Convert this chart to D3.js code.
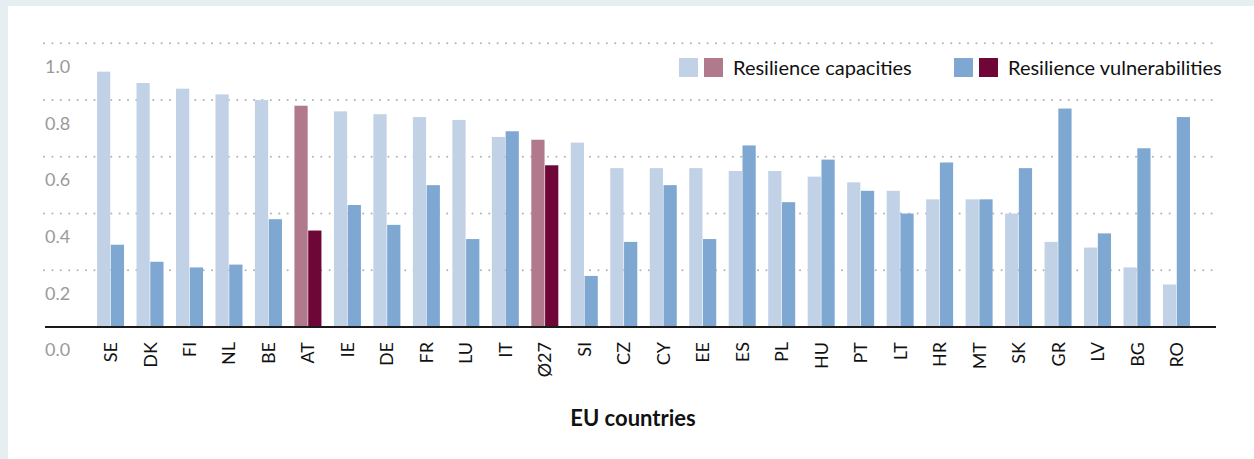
<!DOCTYPE html>
<html>
<head>
<meta charset="utf-8">
<script src="https://cdn.jsdelivr.net/npm/d3@7"></script>
<style>
  body { margin: 0; background: #e6eef2; }
  svg { display: block; }
</style>
</head>
<body>
<div id="chart"></div>
<script>
// EU countries: resilience capacities vs vulnerabilities

var countries = ["SE","DK","FI","NL","BE","AT","IE","DE","FR","LU","IT","Ø27","SI","CZ","CY","EE","ES","PL","HU","PT","LT","HR","MT","SK","GR","LV","BG","RO"];
var capacities = [0.90,0.86,0.84,0.82,0.80,0.78,0.76,0.75,0.74,0.73,0.67,0.66,0.65,0.56,0.56,0.56,0.55,0.55,0.53,0.51,0.48,0.45,0.45,0.40,0.30,0.28,0.21,0.15];
var vulnerabilities = [0.29,0.23,0.21,0.22,0.38,0.34,0.43,0.36,0.50,0.31,0.69,0.57,0.18,0.30,0.50,0.31,0.64,0.44,0.59,0.48,0.40,0.58,0.45,0.56,0.77,0.33,0.63,0.74];
var highlighted = ["AT","Ø27"];
var yTicks = [0.0,0.2,0.4,0.6,0.8,1.0];
var seriesNames = ["Resilience capacities","Resilience vulnerabilities"];

var W = 1254, H = 459;
var font = "Lato, 'Open Sans', sans-serif";

var colors = {
  cap: "#c1d2e7", vul: "#7ea8d1",
  capHi: "#b07a8c", vulHi: "#6e0638"
};

var svg = d3.select("#chart")
  .append("svg")
    .attr("width", W)
    .attr("height", H);

// white panel
svg.append("rect")
  .attr("x", 8).attr("y", 6)
  .attr("width", W - 8).attr("height", H - 6)
  .attr("fill", "#fff");

// scales
var y = d3.scaleLinear()
  .domain([0, 1])
  .range([327, 43.3]);

var x0 = d3.scaleBand()
  .domain(countries)
  .range([90.8, 90.8 + 28 * 39.48])
  .paddingInner(0.316)
  .paddingOuter(0.158);

var x1 = d3.scaleBand()
  .domain(["cap","vul"])
  .range([0, x0.bandwidth()])
  .paddingInner(0.04);

// dotted gridlines
svg.append("g")
  .selectAll("line")
  .data(yTicks.filter(function(d){ return d > 0; }))
  .enter().append("line")
    .attr("x1", 44).attr("x2", 1218)
    .attr("y1", function(d){ return y(d); })
    .attr("y2", function(d){ return y(d); })
    .attr("stroke", "#b4b4b4")
    .attr("stroke-width", 2)
    .attr("stroke-linecap", "round")
    .attr("stroke-dasharray", "0.1,8.3");

// y labels (sit below their line, as in the original)
svg.append("g")
  .selectAll("text")
  .data(yTicks)
  .enter().append("text")
    .attr("x", 45)
    .attr("y", function(d){ return y(d) + 23; })
    .attr("dy", "0.36em")
    .style("font-family", font)
    .style("font-size", "18px")
    .style("fill", "#9a9a9a")
    .text(function(d){ return d3.format(".1f")(d); });

// bars
var rows = countries.map(function(c, i) {
  return {country: c, cap: capacities[i], vul: vulnerabilities[i], hi: highlighted.indexOf(c) >= 0};
});

var groups = svg.append("g")
  .selectAll("g")
  .data(rows)
  .enter().append("g")
    .attr("transform", function(d){ return "translate(" + x0(d.country) + ",0)"; });

groups.append("rect")
  .attr("x", x1("cap"))
  .attr("y", function(d){ return y(d.cap); })
  .attr("width", x1.bandwidth())
  .attr("height", function(d){ return y(0) - y(d.cap); })
  .attr("fill", function(d){ return d.hi ? colors.capHi : colors.cap; });

groups.append("rect")
  .attr("x", x1("vul"))
  .attr("y", function(d){ return y(d.vul); })
  .attr("width", x1.bandwidth())
  .attr("height", function(d){ return y(0) - y(d.vul); })
  .attr("fill", function(d){ return d.hi ? colors.vulHi : colors.vul; });

// baseline
svg.append("line")
  .attr("x1", 45).attr("x2", 1216)
  .attr("y1", y(0)).attr("y2", y(0))
  .attr("stroke", "#1a1a1a")
  .attr("stroke-width", 2);

// x axis labels (rotated)
var xAxis = svg.append("g")
  .attr("transform", "translate(0," + y(0) + ")")
  .call(d3.axisBottom(x0).tickSize(0).tickPadding(0));
xAxis.select(".domain").remove();
xAxis.selectAll("text")
  .attr("transform", "rotate(-90)")
  .attr("x", -15)
  .attr("y", 0)
  .attr("dy", "0.36em")
  .style("text-anchor", "end")
  .style("font-family", font)
  .style("font-size", "18px")
  .style("fill", "#111");

// axis title
svg.append("text")
  .attr("x", 633)
  .attr("y", 418)
  .attr("dy", "0.36em")
  .style("text-anchor", "middle")
  .style("font-family", font)
  .style("font-size", "22px")
  .style("font-weight", "bold")
  .style("fill", "#111")
  .text("EU countries");

// legend
var legendData = [
  {name: seriesNames[0], c1: colors.cap, c2: colors.capHi, x: 679},
  {name: seriesNames[1], c1: colors.vul, c2: colors.vulHi, x: 954}
];
var legend = svg.append("g")
  .selectAll("g")
  .data(legendData)
  .enter().append("g")
    .attr("transform", function(d){ return "translate(" + d.x + ",58)"; });

legend.append("rect")
  .attr("width", 19).attr("height", 19)
  .attr("fill", function(d){ return d.c1; });
legend.append("rect")
  .attr("x", 25)
  .attr("width", 19).attr("height", 19)
  .attr("fill", function(d){ return d.c2; });
legend.append("text")
  .attr("x", 54)
  .attr("y", 10)
  .attr("dy", "0.36em")
  .style("font-family", font)
  .style("font-size", "20px")
  .style("fill", "#111")
  .text(function(d){ return d.name; });
</script>
</body>
</html>
